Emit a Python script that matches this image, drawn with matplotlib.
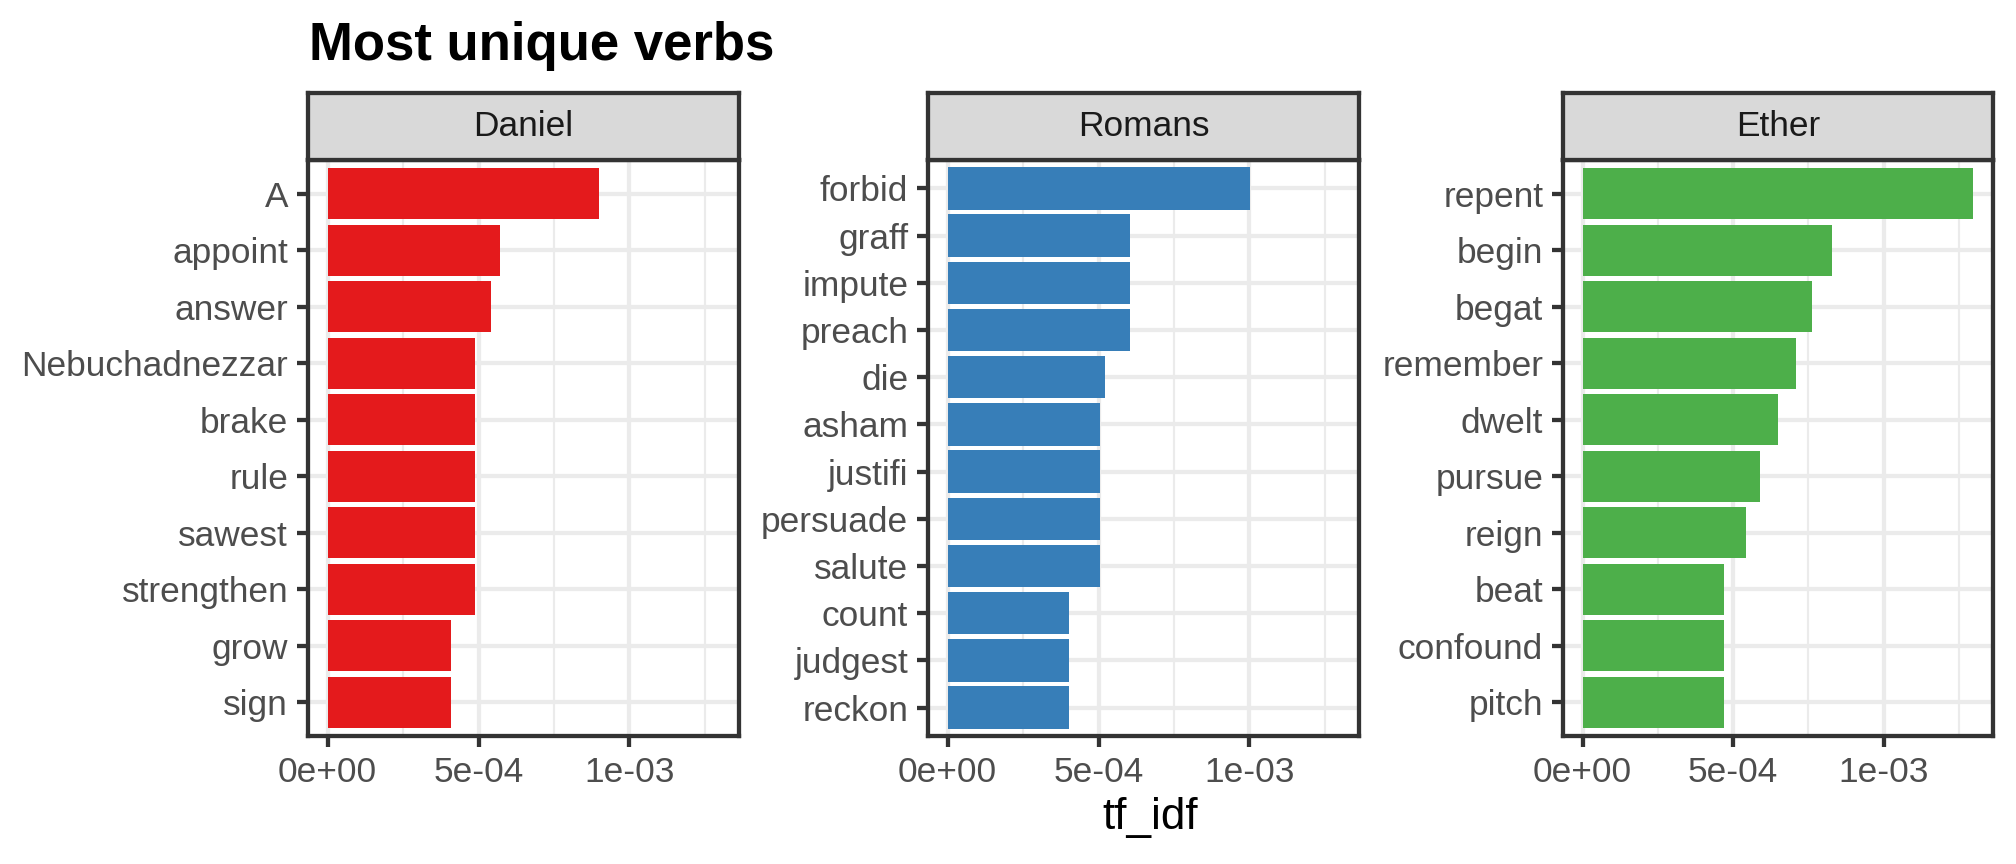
import matplotlib
matplotlib.use("Agg")
import matplotlib.pyplot as plt

plt.rcParams['font.family'] = ['Liberation Sans', 'DejaVu Sans']

# dados (de cima para baixo em cada painel)
livros = ['Daniel', 'Romans', 'Ether']
cores = ['#E41A1C', '#377EB8', '#4DAF4A']

daniel_verbos = ['A', 'appoint', 'answer', 'Nebuchadnezzar', 'brake', 'rule',
                 'sawest', 'strengthen', 'grow', 'sign']
daniel_tfidf = [8.98e-4, 5.71e-4, 5.41e-4, 4.88e-4, 4.88e-4, 4.88e-4,
                4.88e-4, 4.88e-4, 4.09e-4, 4.09e-4]

romans_verbos = ['forbid', 'graff', 'impute', 'preach', 'die', 'asham', 'justifi',
                 'persuade', 'salute', 'count', 'judgest', 'reckon']
romans_tfidf = [1.003e-3, 6.03e-4, 6.03e-4, 6.03e-4, 5.20e-4, 5.04e-4, 5.04e-4,
                5.04e-4, 5.04e-4, 4.01e-4, 4.01e-4, 4.01e-4]

ether_verbos = ['repent', 'begin', 'begat', 'remember', 'dwelt', 'pursue', 'reign',
                'beat', 'confound', 'pitch']
ether_tfidf = [1.298e-3, 8.29e-4, 7.63e-4, 7.10e-4, 6.50e-4, 5.90e-4, 5.44e-4,
               4.71e-4, 4.71e-4, 4.71e-4]

x_ticks = [0, 5e-4, 1e-3]
x_tick_labels = ['0e+00', '5e-04', '1e-03']
x_minor = [2.5e-4, 7.5e-4, 1.25e-3]

verbos = [daniel_verbos, romans_verbos, ether_verbos]
valores = [daniel_tfidf, romans_tfidf, ether_tfidf]

W, H = 2016, 864
fig = plt.figure(figsize=(7, 3), dpi=288)

paineis_x = [(308, 739), (928, 1359), (1563, 1993)]
strip_top, strip_bot, painel_bot = 93, 160, 736

vmax = max(max(v) for v in valores)
xlim = (-0.05 * vmax, 1.05 * vmax)

for k in range(3):
    x0, x1 = paineis_x[k]
    ax = fig.add_axes([x0 / W, 1 - painel_bot / H, (x1 - x0) / W, (painel_bot - strip_bot) / H])
    nomes = verbos[k][::-1]
    vals = valores[k][::-1]
    pos = list(range(len(nomes)))
    ax.barh(pos, vals, height=0.9, color=cores[k], zorder=2)
    ax.set_ylim(-0.6, len(nomes) - 1 + 0.6)
    ax.set_xlim(xlim)
    ax.set_yticks(pos)
    ax.set_yticklabels(nomes)
    ax.set_xticks(x_ticks)
    ax.set_xticklabels(x_tick_labels)
    ax.set_xticks(x_minor, minor=True)
    ax.grid(True, which='major', color='#EBEBEB', linewidth=1.07, zorder=0)
    ax.grid(True, which='minor', axis='x', color='#EBEBEB', linewidth=0.53, zorder=0)
    ax.set_axisbelow(True)
    ax.tick_params(axis='both', which='major', length=2.75, width=1.07, color='#333333',
                   labelsize=8.8, labelcolor='#4D4D4D', pad=2.2)
    ax.tick_params(axis='x', which='minor', length=0)
    for s in ax.spines.values():
        s.set_color('#333333')
        s.set_linewidth(1.07)
        s.set_zorder(3)

    # faixa do titulo do painel
    st = fig.add_axes([x0 / W, 1 - strip_bot / H, (x1 - x0) / W, (strip_bot - strip_top) / H])
    st.set_facecolor('#D9D9D9')
    st.set_xticks([])
    st.set_yticks([])
    for s in st.spines.values():
        s.set_color('#333333')
        s.set_linewidth(1.07)
    st.text(0.5, 0.5, livros[k], ha='center', va='center', fontsize=8.8, color='#1A1A1A',
            transform=st.transAxes)

fig.text(309 / W, 1 - 46 / H, 'Most unique verbs', fontsize=13.2, fontweight='bold',
         ha='left', va='center')
fig.text(1150 / W, 1 - 818 / H, 'tf_idf', fontsize=11, ha='center', va='center')

fig.savefig('out.png', dpi=288)
